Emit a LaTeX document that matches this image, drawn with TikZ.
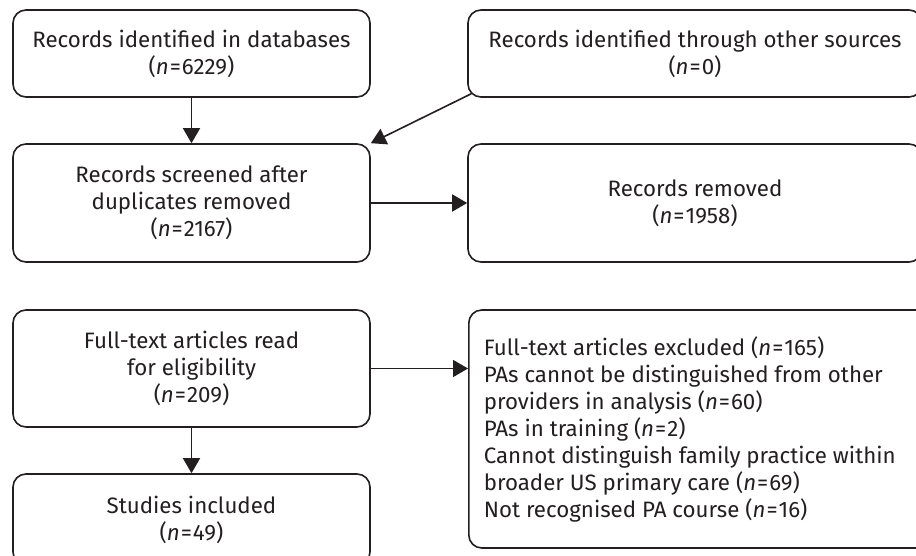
\documentclass[tikz,border=0pt]{standalone}
\usepackage{fontspec}
\setmainfont{Fira Sans}
\usetikzlibrary{arrows.meta}
\definecolor{ink}{HTML}{231F20}
\newcommand{\nval}[1]{(\textit{n}\kern1pt=\kern1pt#1)}
\begin{document}
\begin{tikzpicture}[x=1pt,y=-1pt,
  box/.style={draw=ink, line width=1.6pt, rounded corners=13pt, align=center,
    text=ink, inner sep=0pt, font=\fontsize{22.3}{27}\selectfont},
  flow/.style={draw=ink, line width=1.6pt, -{Triangle[length=15pt,width=17pt]}}]
\clip (0,0) rectangle (916,556);
\fill[white] (0,0) rectangle (916,556);
\node[box, minimum width=357pt, minimum height=87pt] (db) at (191.5,53.5)
  {Records identified in databases\\\nval{6229}};
\node[box, minimum width=454pt, minimum height=87pt] (other) at (695,53.5)
  {Records identified through other sources\\\nval{0}};
\node[box, minimum width=357pt, minimum height=118pt] (screen) at (191.5,203)
  {Records screened after\\duplicates removed\\\nval{2167}};
\node[box, minimum width=454pt, minimum height=118pt] (removed) at (695,203)
  {Records removed\\\nval{1958}};
\node[box, minimum width=357pt, minimum height=117pt] (full) at (191.5,368.5)
  {Full-text articles read\\for eligibility\\\nval{209}};
\node[box, minimum width=454pt, minimum height=238pt, align=left, anchor=west,
  inner xsep=15pt] (excl) at (468,429)
  {\makebox[439pt][l]{\parbox{439pt}{\raggedright Full-text articles excluded \nval{165}\\
  PAs cannot be distinguished from other\\
  providers in analysis \nval{60}\\
  PAs in training \nval{2}\\
  Cannot distinguish family practice within\\
  broader US primary care \nval{69}\\
  Not recognised PA course \nval{16}}}};
\node[box, minimum width=357pt, minimum height=91pt] (incl) at (191.5,519.5)
  {Studies included\\\nval{49}};
\draw[flow] (db) -- (screen);
\draw[flow] ([shift={(4,-4)}]other.south west) -- (screen.north east);
\draw[flow] (screen) -- (removed);
\draw[flow] (full) -- (full -| excl.west);
\draw[flow] (full) -- (incl);
\end{tikzpicture}
\end{document}
